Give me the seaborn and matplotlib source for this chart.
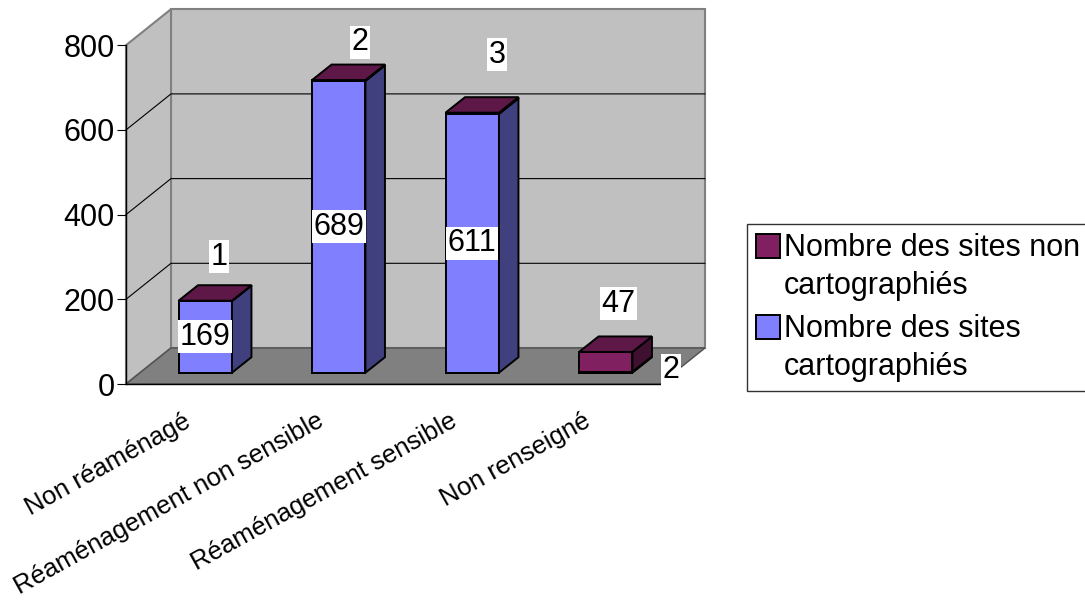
import matplotlib
matplotlib.use("Agg")
import matplotlib.pyplot as plt
import numpy as np
import pandas as pd
import seaborn as sns
from matplotlib.patches import Polygon, Rectangle, Patch
from matplotlib.legend_handler import HandlerPatch
from matplotlib.transforms import ScaledTranslation
from matplotlib.lines import Line2D

# ---------------- data ----------------
categories = ["Non réaménagé", "Réaménagement non sensible",
              "Réaménagement sensible", "Non renseigné"]
cartographies = [169, 689, 611, 2]          # Nombre des sites cartographiés
non_cartographies = [1, 2, 3, 47]           # Nombre des sites non cartographiés
y_ticks = [0, 200, 400, 600, 800]
series_names = ["Nombre des sites non\ncartographiés",
                "Nombre des sites\ncartographiés"]

# ---------------- style ----------------
BLUE, BLUE_SIDE = "#8080FF", "#40407F"
PURPLE, PURPLE_TOP, PURPLE_SIDE = "#802060", "#5E1848", "#401030"
WALL, FLOOR, WALL_EDGE = "#C0C0C0", "#808080", "#808080"

# label offsets (pixels) relative to their anchor point
blue_label_offsets = [(0, 0), (0, 0), (0, 0), (65, 2)]
purple_label_offsets = [(14, 44), (21, 38), (25, 58), (13, 48)]
LINESPACING = 1.32

sns.set_theme(style="white")
plt.rcParams["font.family"] = ["Liberation Sans", "DejaVu Sans"]

W, H, DPI = 1085, 603, 100
fig = plt.figure(figsize=(W / DPI, H / DPI), dpi=DPI)
fig.patch.set_facecolor("white")

# front plane of the 3-D box (pixels)
ax_left, ax_right, ax_bottom_px, ax_top_px = 126, 660, 384, 45.2
ax = fig.add_axes([ax_left / W, 1 - ax_bottom_px / H,
                   (ax_right - ax_left) / W, (ax_bottom_px - ax_top_px) / H])
ax.patch.set_visible(False)

px_x = (ax_right - ax_left) / 4.0
px_y = (ax_bottom_px - ax_top_px) / 800.0


def d(dx_px, dy_px):
    return dx_px / px_x, dy_px / px_y


BACK = d(45, 36)        # depth of the whole box
DEPTH = d(19.5, 15.5)   # depth of a bar
plane = ax.transData + ScaledTranslation(12.5 / DPI, 11.3 / DPI, fig.dpi_scale_trans)

df = pd.DataFrame({"categorie": categories,
                   "cartographies": cartographies,
                   "non_cartographies": non_cartographies})
df["total"] = df["cartographies"] + df["non_cartographies"]

n0 = len(ax.patches)
sns.barplot(data=df, x="categorie", y="total", order=categories, color=PURPLE,
            saturation=1, width=0.4, edgecolor="black", linewidth=1.4, ax=ax)
purple_bars = ax.patches[n0:]
n1 = len(ax.patches)
sns.barplot(data=df, x="categorie", y="cartographies", order=categories, color=BLUE,
            saturation=1, width=0.4, edgecolor="black", linewidth=1.4, ax=ax)
blue_bars = ax.patches[n1:]

ax.set_xlim(-0.5, 3.5)
ax.set_ylim(0, 800)

# ---------------- walls & floor ----------------
x0, x1 = -0.5, 3.5
bx, by = BACK
ax.add_patch(Rectangle((x0 + bx, by), x1 - x0, 800, facecolor=WALL, edgecolor=WALL_EDGE,
                       lw=1.5, zorder=0.2, clip_on=False))
ax.add_patch(Polygon([(x0, 0), (x0, 800), (x0 + bx, 800 + by), (x0 + bx, by)],
                     closed=True, facecolor=WALL, edgecolor=WALL_EDGE, lw=1.5,
                     zorder=0.2, clip_on=False))
ax.add_patch(Polygon([(x0, 0), (x1, 0), (x1 + bx, by), (x0 + bx, by)], closed=True,
                     facecolor=FLOOR, edgecolor="#505050", lw=1, zorder=0.3, clip_on=False))
for v in y_ticks[1:-1]:
    ax.add_line(Line2D([x0, x0 + bx, x1 + bx], [v, v + by, v + by], color="black",
                       lw=0.8, zorder=0.4, clip_on=False))

# ---------------- 3-D bars ----------------
ddx, ddy = DEPTH
for i, (pb, bb) in enumerate(zip(purple_bars, blue_bars)):
    for p in (pb, bb):
        p.set_transform(plane)
        p.set_clip_on(False)
    xl = pb.get_x()
    xr = xl + pb.get_width()
    yb = bb.get_height()
    yt = pb.get_height()
    segs = [(0, yb, BLUE_SIDE), (yb, yt, PURPLE_SIDE)]
    for y0, y1, col in segs:
        ax.add_patch(Polygon([(xr, y0), (xr, y1), (xr + ddx, y1 + ddy), (xr + ddx, y0 + ddy)],
                             closed=True, facecolor=col, edgecolor="black", lw=1.4,
                             transform=plane, zorder=2.1, clip_on=False))
    ax.add_patch(Polygon([(xl, yt), (xr, yt), (xr + ddx, yt + ddy), (xl + ddx, yt + ddy)],
                         closed=True, facecolor=PURPLE_TOP, edgecolor="black", lw=1.4,
                         transform=plane, zorder=2.2, clip_on=False))

    xc = xl + pb.get_width() / 2
    box = dict(boxstyle="square,pad=0.05", facecolor="white", edgecolor="none")
    ax.annotate(f"{cartographies[i]}", xy=(xc, yb / 2), xycoords=plane,
                xytext=blue_label_offsets[i], textcoords="offset pixels",
                ha="center", va="center", fontsize=22, color="black", bbox=box, zorder=5,
                annotation_clip=False)
    ax.annotate(f"{non_cartographies[i]}", xy=(xc, yt), xycoords=plane,
                xytext=purple_label_offsets[i], textcoords="offset pixels",
                ha="center", va="center", fontsize=22, color="black", bbox=box, zorder=5,
                annotation_clip=False)

# ---------------- axes ----------------
for s in ("top", "right"):
    ax.spines[s].set_visible(False)
for s in ("left", "bottom"):
    ax.spines[s].set_color("black")
    ax.spines[s].set_linewidth(1.0)
    ax.spines[s].set_zorder(3)
ax.set_yticks(y_ticks)
ax.set_yticklabels([str(t) for t in y_ticks], fontsize=22, color="black")
ax.tick_params(axis="y", left=True, length=6.5, width=0.8, color="black", pad=1.5)
ax.set_xticks(np.arange(len(categories)) - 0.075)
ax.set_xticklabels(categories, rotation=29, ha="right", va="top",
                   rotation_mode="anchor", fontsize=18.5, color="black")
ax.tick_params(axis="x", bottom=False, length=0, pad=18)
ax.set_xlabel("")
ax.set_ylabel("")


# ---------------- legend ----------------
def square_top(legend, orig_handle, xdescent, ydescent, width, height, fontsize):
    s = 24 * 0.72
    step = LINESPACING * 0.892 * fontsize
    yc = 0.5 * step + 0.358 * fontsize + 0.105 * fontsize
    return Rectangle((0, yc - s / 2), s, s)


handles = [Patch(facecolor=PURPLE, edgecolor="black", lw=1.4),
           Patch(facecolor=BLUE, edgecolor="black", lw=1.4)]
leg = fig.legend(handles, series_names, loc="upper left",
                 bbox_to_anchor=(747 / W, 1 - 224 / H), bbox_transform=fig.transFigure,
                 fontsize=22, frameon=True, fancybox=False, shadow=False,
                 borderaxespad=0, borderpad=0.3, handlelength=0.79, handleheight=0.7,
                 handletextpad=0.12, labelspacing=0.45,
                 handler_map={Patch: HandlerPatch(patch_func=square_top)})
leg.get_frame().set_edgecolor("black")
leg.get_frame().set_linewidth(1.0)
leg.get_frame().set_facecolor("white")
for t in leg.get_texts():
    t.set_linespacing(LINESPACING)
    t.set_color("black")

fig.savefig("out.png", dpi=DPI)
